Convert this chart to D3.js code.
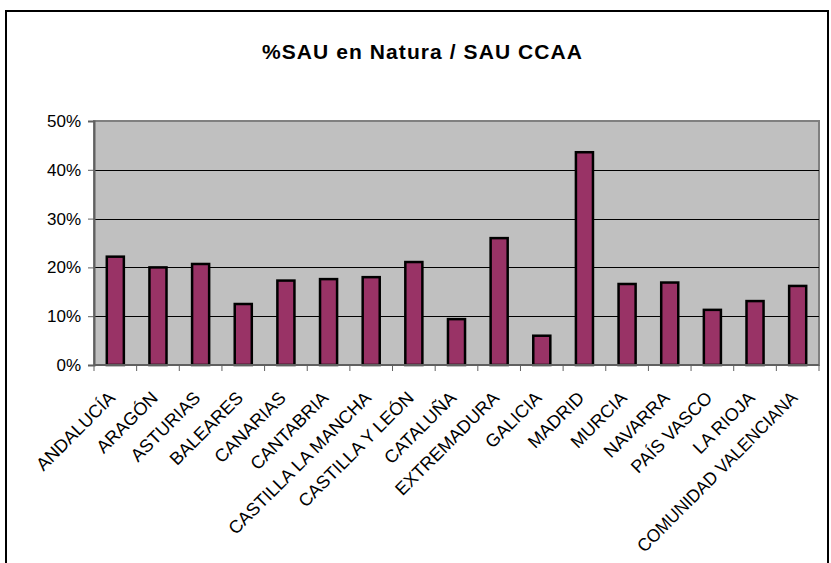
<!DOCTYPE html>
<html lang="es">
<head>
    <meta charset="UTF-8">
    <title>%SAU en Natura / SAU CCAA</title>
    <script src="https://cdnjs.cloudflare.com/ajax/libs/d3/7.8.5/d3.min.js"></script>
    <style>
        body { margin: 0; background: #fff; }
        svg text { font-family: "Liberation Sans", Arial, sans-serif; fill: #000; }
    </style>
</head>
<body>
    <div id="chart"></div>

    <script>
        // Data
        const regions = ["ANDALUCÍA", "ARAGÓN", "ASTURIAS", "BALEARES", "CANARIAS", "CANTABRIA",
            "CASTILLA LA MANCHA", "CASTILLA Y LEÓN", "CATALUÑA", "EXTREMADURA", "GALICIA",
            "MADRID", "MURCIA", "NAVARRA", "PAÍS VASCO", "LA RIOJA", "COMUNIDAD VALENCIANA"];
        const shares = [0.222, 0.200, 0.207, 0.125, 0.173, 0.176, 0.180, 0.211, 0.094, 0.260,
            0.060, 0.436, 0.166, 0.169, 0.113, 0.131, 0.162];
        const yTicks = [0, 0.1, 0.2, 0.3, 0.4, 0.5];
        const title = "%SAU en Natura / SAU CCAA";

        const W = 831, H = 563;
        const plot = {left: 94, right: 819, top: 121, bottom: 365};

        const svg = d3.select("#chart").append("svg")
            .attr("width", W)
            .attr("height", H);

        // chart frame (bottom edge runs off the picture)
        svg.append("rect")
            .attr("x", 6).attr("y", 11)
            .attr("width", 822).attr("height", 600)
            .attr("fill", "#fff")
            .attr("stroke", "#000")
            .attr("stroke-width", 2);

        svg.append("text")
            .attr("x", 422)
            .attr("y", 59)
            .attr("text-anchor", "middle")
            .attr("font-size", 21)
            .attr("font-weight", 700)
            .attr("textLength", 320)
            .attr("lengthAdjust", "spacing")
            .text(title);

        const x = d3.scaleBand()
            .domain(regions)
            .range([plot.left, plot.right])
            .paddingInner(0.6)
            .paddingOuter(0.3);

        const xEdge = d3.scaleBand()
            .domain(regions)
            .range([plot.left, plot.right]);

        const y = d3.scaleLinear()
            .domain([0, 0.5])
            .range([plot.bottom, plot.top]);

        // plot area
        svg.append("rect")
            .attr("x", plot.left).attr("y", plot.top)
            .attr("width", plot.right - plot.left)
            .attr("height", plot.bottom - plot.top)
            .attr("fill", "#c0c0c0")
            .attr("stroke", "#808080")
            .attr("stroke-width", 2);

        // gridlines
        svg.append("g")
            .selectAll("line")
            .data(yTicks.filter(d => d > 0 && d < 0.5))
            .join("line")
            .attr("x1", plot.left).attr("x2", plot.right)
            .attr("y1", d => Math.round(y(d)) + 0.5)
            .attr("y2", d => Math.round(y(d)) + 0.5)
            .attr("stroke", "#000")
            .attr("stroke-width", 1);

        // bars
        svg.append("g")
            .selectAll("rect")
            .data(shares)
            .join("rect")
            .attr("x", (d, i) => x(regions[i]))
            .attr("y", d => y(d))
            .attr("width", x.bandwidth())
            .attr("height", d => y(0) - y(d))
            .attr("fill", "#993366")
            .attr("stroke", "#000")
            .attr("stroke-width", 2.5);

        // y axis
        const yAxis = svg.append("g")
            .attr("transform", `translate(${plot.left},0)`)
            .call(d3.axisLeft(y).tickValues(yTicks).tickFormat(d3.format(".0%")).tickSize(6).tickPadding(7));
        yAxis.select(".domain").attr("stroke", "#606060").attr("stroke-width", 2);
        yAxis.selectAll(".tick line").attr("stroke", "#606060");
        yAxis.selectAll(".tick text")
            .attr("font-size", 17)
            .attr("font-family", "Liberation Sans, Arial, sans-serif");

        // x axis: ticks sit between the categories
        const xAxis = svg.append("g")
            .attr("transform", `translate(0,${plot.bottom})`);
        xAxis.append("line")
            .attr("x1", plot.left).attr("x2", plot.right)
            .attr("stroke", "#606060").attr("stroke-width", 2);
        xAxis.selectAll(".edge")
            .data(regions.map(r => xEdge(r)).concat([plot.right]))
            .join("line")
            .attr("class", "edge")
            .attr("x1", d => d).attr("x2", d => d)
            .attr("y1", 0).attr("y2", 6)
            .attr("stroke", "#606060");

        const maxLabel = 218;
        svg.append("g")
            .selectAll("text")
            .data(regions)
            .join("text")
            .attr("text-anchor", "end")
            .attr("font-size", 18)
            .attr("transform", d => `translate(${x(d) + x.bandwidth() / 2 + 1},399) rotate(-45)`)
            .text(d => d)
            .each(function() {
                // long labels are squeezed so they stay inside the frame
                if (this.getComputedTextLength() > maxLabel) {
                    d3.select(this)
                        .attr("textLength", maxLabel)
                        .attr("lengthAdjust", "spacingAndGlyphs");
                }
            });
    </script>
</body>
</html>
